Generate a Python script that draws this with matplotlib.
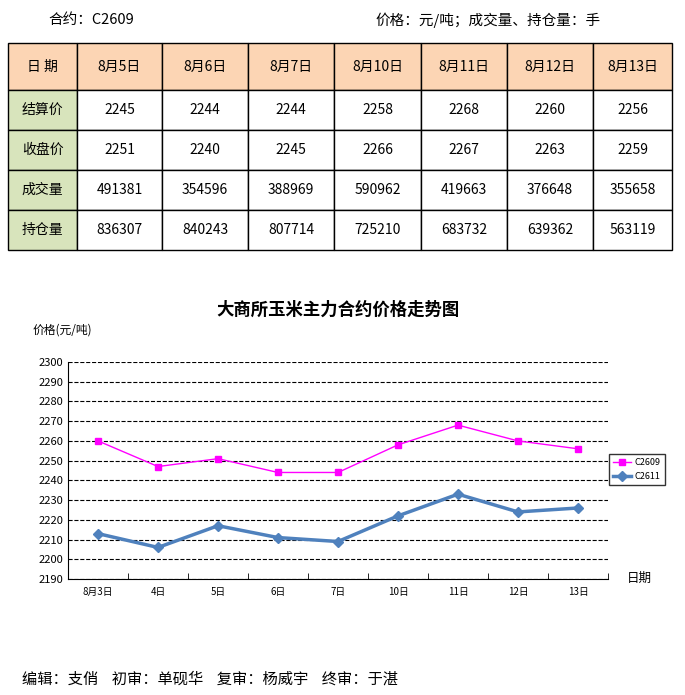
import matplotlib.pyplot as plt
from matplotlib.patches import Rectangle

plt.rcParams['font.family'] = ['Noto Sans CJK SC', 'DejaVu Sans']

table_dates = ['8月5日', '8月6日', '8月7日', '8月10日', '8月11日', '8月12日', '8月13日']
row_names = ['结算价', '收盘价', '成交量', '持仓量']
settle = [2245, 2244, 2244, 2258, 2268, 2260, 2256]
close = [2251, 2240, 2245, 2266, 2267, 2263, 2259]
volume = [491381, 354596, 388969, 590962, 419663, 376648, 355658]
open_int = [836307, 840243, 807714, 725210, 683732, 639362, 563119]

chart_dates = ['8月3日', '4日', '5日', '6日', '7日', '10日', '11日', '12日', '13日']
c2609 = [2260, 2247, 2251, 2244, 2244, 2258, 2268, 2260, 2256]
c2611 = [2213, 2206, 2217, 2211, 2209, 2222, 2233, 2224, 2226]

fig = plt.figure(figsize=(6.85, 6.95), dpi=100)

# overlay in pixel coords for table and texts
bg = fig.add_axes([0, 0, 1, 1])
bg.set_xlim(0, 685)
bg.set_ylim(695, 0)
bg.axis('off')

bg.text(48, 20, '合约：C2609', fontsize=10.5, va='center')
bg.text(375, 20, '价格：元/吨；成交量、持仓量：手', fontsize=10.5, va='center')

xs = [8, 77, 162, 248, 334, 421, 507, 593, 672]
ys = [43, 90, 130, 170, 210, 250]
rows = [settle, close, volume, open_int]
for r in range(5):
    for c in range(8):
        if r == 0:
            fc = '#fcd5b4'
        elif c == 0:
            fc = '#d8e4bc'
        else:
            fc = 'white'
        bg.add_patch(Rectangle((xs[c], ys[r]), xs[c + 1] - xs[c], ys[r + 1] - ys[r],
                               facecolor=fc, edgecolor='black', lw=1))
        if r == 0:
            txt = '日 期' if c == 0 else table_dates[c - 1]
        else:
            txt = row_names[r - 1] if c == 0 else str(rows[r - 1][c - 1])
        bg.text((xs[c] + xs[c + 1]) / 2, (ys[r] + ys[r + 1]) / 2, txt,
                ha='center', va='center', fontsize=10)

bg.text(338, 310, '大商所玉米主力合约价格走势图', ha='center', va='center',
        fontsize=12.5, fontweight='bold')
bg.text(33, 330, '价格(元/吨)', fontsize=8.5, va='center')
bg.text(627, 578, '日期', fontsize=9, va='center')
bg.text(22, 679, '编辑：支俏    初审：单砚华    复审：杨威宇    终审：于湛', fontsize=11, va='center')

ax = fig.add_axes([68 / 685, 1 - 579 / 695, 540 / 685, 217 / 695])
x = range(len(chart_dates))
ax.plot(x, c2609, color='#ff00ff', marker='s', markersize=5, lw=1, label='C2609')
ax.plot(x, c2611, color='#4f81bd', marker='D', markersize=5, lw=2.5, label='C2611')
ax.set_xlim(-0.5, 8.5)
ax.set_ylim(2190, 2300)
ax.set_yticks(range(2190, 2301, 10))
ax.set_xticks(list(x))
ax.set_xticklabels(chart_dates, fontsize=7)
ax.set_xticks([i - 0.5 for i in range(10)], minor=True)
ax.tick_params(axis='x', which='major', length=0, pad=6)
ax.tick_params(axis='x', which='minor', length=4, direction='in')
ax.tick_params(axis='y', labelsize=8, length=0)
ax.grid(axis='y', linestyle='--', color='black', lw=0.8)
for s in ['top', 'right']:
    ax.spines[s].set_visible(False)
ax.legend(loc='center left', bbox_to_anchor=(1.0, 0.505), fontsize=6.5, frameon=True,
          fancybox=False, edgecolor='black', handlelength=2.0, handletextpad=0.3,
          borderpad=0.5, borderaxespad=0.1)

fig.savefig('out.png', dpi=100)
